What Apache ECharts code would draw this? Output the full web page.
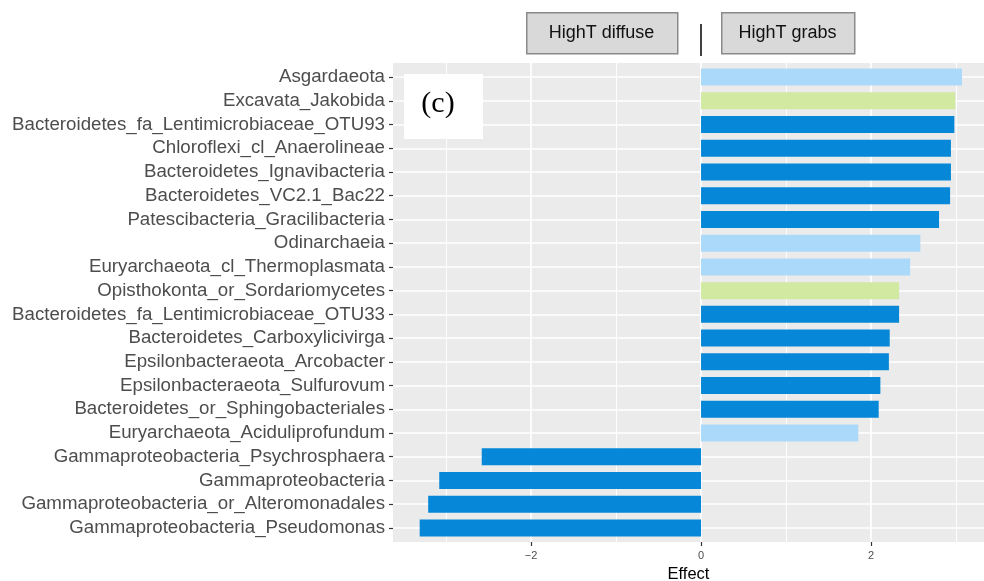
<!DOCTYPE html>
<html>
<head>
<meta charset="utf-8">
<script src="https://cdn.jsdelivr.net/npm/echarts@6/dist/echarts.min.js"></script>
<style>html,body{margin:0;padding:0;background:#fff;}#chart{width:984px;height:581px;}</style>
</head>
<body>
<div id="chart"></div>
<script>
const categories = [
  "Asgardaeota",
  "Excavata_Jakobida",
  "Bacteroidetes_fa_Lentimicrobiaceae_OTU93",
  "Chloroflexi_cl_Anaerolineae",
  "Bacteroidetes_Ignavibacteria",
  "Bacteroidetes_VC2.1_Bac22",
  "Patescibacteria_Gracilibacteria",
  "Odinarchaeia",
  "Euryarchaeota_cl_Thermoplasmata",
  "Opisthokonta_or_Sordariomycetes",
  "Bacteroidetes_fa_Lentimicrobiaceae_OTU33",
  "Bacteroidetes_Carboxylicivirga",
  "Epsilonbacteraeota_Arcobacter",
  "Epsilonbacteraeota_Sulfurovum",
  "Bacteroidetes_or_Sphingobacteriales",
  "Euryarchaeota_Aciduliprofundum",
  "Gammaproteobacteria_Psychrosphaera",
  "Gammaproteobacteria",
  "Gammaproteobacteria_or_Alteromonadales",
  "Gammaproteobacteria_Pseudomonas"
];
const effects = [3.07, 2.99, 2.98, 2.94, 2.94, 2.93, 2.80, 2.58, 2.46, 2.33, 2.33, 2.22, 2.21, 2.11, 2.09, 1.85, -2.58, -3.08, -3.21, -3.31];
const domains = ["archaea","eukarya","bacteria","bacteria","bacteria","bacteria","bacteria","archaea","archaea","eukarya","bacteria","bacteria","bacteria","bacteria","bacteria","archaea","bacteria","bacteria","bacteria","bacteria"];
const xTicks = [-2, 0, 2];
const majorGrid = [-2, 0, 2];
const minorGrid = [-3, -1, 1, 3];
const headerLabels = ["HighT diffuse", "HighT grabs"];
const panelTag = "(c)";

const domainColors = { bacteria: "#0787d7", archaea: "#abd9fa", eukarya: "#d1e9a0" };
const X_MIN = -3.624, X_MAX = 3.329;

const chart = echarts.init(document.getElementById('chart'), null, { renderer: 'canvas' });

const verticalLines = []
  .concat(minorGrid.map(v => ({ xAxis: v, lineStyle: { color: '#ffffff', width: 0.9, type: 'solid' } })))
  .concat(majorGrid.map(v => ({ xAxis: v, lineStyle: { color: '#ffffff', width: 1.7, type: 'solid' } })));
const horizontalLines = categories.map((c, i) => ({ yAxis: i, lineStyle: { color: '#ffffff', width: 1.7, type: 'solid' } }));

const option = {
  animation: false,
  backgroundColor: '#ffffff',
  grid: [
    { left: 393, right: 0, top: 63, bottom: 39, show: true, backgroundColor: '#ebebeb', borderWidth: 0, containLabel: false, outerBoundsMode: 'none' },
    { left: 393, right: 0, top: 65.2, bottom: 41.2, show: false, containLabel: false, outerBoundsMode: 'none' }
  ],
  xAxis: [{
    gridIndex: 0,
    type: 'value',
    position: 'bottom',
    min: X_MIN, max: X_MAX,
    name: 'Effect',
    nameLocation: 'middle',
    nameGap: 21,
    nameTextStyle: { color: '#000000', fontSize: 16.5, fontFamily: 'Liberation Sans' },
    axisLine: { show: false, onZero: false },
    splitLine: { show: false },
    axisTick: { show: true, customValues: xTicks, length: 4, lineStyle: { color: '#333333', width: 1.2 } },
    axisLabel: {
      customValues: xTicks,
      color: '#4d4d4d', fontSize: 11, fontFamily: 'Liberation Sans', margin: 8,
      formatter: v => (v < 0 ? '\u2212' + Math.abs(v) : String(v))
    }
  }, {
    gridIndex: 1,
    type: 'value',
    min: X_MIN, max: X_MAX,
    show: false,
    axisLine: { onZero: false },
    splitLine: { show: false }
  }],
  yAxis: [{
    gridIndex: 0,
    type: 'value',
    min: 0, max: 1,
    show: false,
    axisLine: { onZero: false },
    splitLine: { show: false }
  }, {
    gridIndex: 1,
    type: 'category',
    position: 'left',
    data: categories,
    inverse: true,
    axisLine: { show: false, onZero: false },
    splitLine: { show: false },
    axisTick: { show: true, alignWithLabel: true, length: 4, lineStyle: { color: '#333333', width: 1.2 } },
    axisLabel: { interval: 0, color: '#4d4d4d', fontSize: 18.7, fontFamily: 'Liberation Sans', margin: 8 }
  }],
  series: [{
    type: 'line',
    xAxisIndex: 0, yAxisIndex: 0,
    data: [],
    z: 1,
    markLine: {
      silent: true, z: 1, symbol: 'none', animation: false,
      label: { show: false },
      data: verticalLines
    }
  }, {
    type: 'bar',
    xAxisIndex: 1, yAxisIndex: 1,
    barWidth: 17,
    z: 3,
    data: effects.map((v, i) => ({ value: v, itemStyle: { color: domainColors[domains[i]] } })),
    markLine: {
      silent: true, z: 1, symbol: 'none', animation: false,
      label: { show: false },
      data: horizontalLines
    }
  }],
  graphic: [
    { type: 'rect', left: 526, top: 12, shape: { width: 151, height: 41 }, style: { fill: '#d9d9d9', stroke: '#8a8a8a', lineWidth: 1.5 } },
    { type: 'text', x: 601.5, y: 33, style: { text: headerLabels[0], align: 'center', verticalAlign: 'middle', fill: '#111111', fontSize: 18, fontFamily: 'Liberation Sans' } },
    { type: 'rect', left: 721, top: 12, shape: { width: 133, height: 41 }, style: { fill: '#d9d9d9', stroke: '#8a8a8a', lineWidth: 1.5 } },
    { type: 'text', x: 787.5, y: 33, style: { text: headerLabels[1], align: 'center', verticalAlign: 'middle', fill: '#111111', fontSize: 18, fontFamily: 'Liberation Sans' } },
    { type: 'line', shape: { x1: 701, y1: 24, x2: 701, y2: 56 }, style: { stroke: '#000000', lineWidth: 1.5 } },
    { type: 'rect', left: 404, top: 74, shape: { width: 79, height: 65 }, style: { fill: '#ffffff' }, z: 10 },
    { type: 'text', x: 438, y: 104, z: 11, style: { text: panelTag, align: 'center', verticalAlign: 'middle', fill: '#000000', fontSize: 30, fontFamily: 'Liberation Serif' } }
  ]
};
chart.setOption(option);
</script>
</body>
</html>
